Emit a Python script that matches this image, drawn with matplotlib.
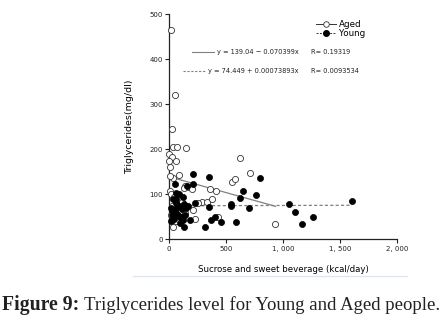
import matplotlib
matplotlib.use("Agg")
import matplotlib.pyplot as plt
from matplotlib.lines import Line2D
import numpy as np

# ---- data ----
aged_x = [18, 53, 24, 33, 73, 150, 3, 30, 62, 2, 10, 626, 714, 557, 580, 88, 37, 140, 170,
          360, 410, 290, 330, 375, 214, 430, 229, 934, 37,
          5, 15, 45, 80, 110, 120, 20, 50, 100, 140, 60, 30, 200, 130, 250, 10]
aged_y = [466, 320, 245, 206, 206, 204, 190, 182, 175, 173, 160, 181, 147, 127, 133, 144, 136, 119, 116,
          111, 107, 84, 83, 90, 66, 50, 45, 33, 28,
          108, 100, 95, 90, 82, 70, 55, 50, 60, 58, 40, 75, 112, 115, 80, 140]

young_x = [214, 350, 802, 214, 52, 161, 645, 767, 625, 60, 37, 60, 548, 540, 700, 355, 1051, 1101,
           1163, 1263, 1604, 458, 590, 405, 366, 318, 132, 185, 123, 100, 229,
           20, 40, 55, 70, 90, 110, 130, 30, 45, 80, 100, 150, 15, 60, 120, 85, 25, 65, 140, 170]
young_y = [146, 138, 137, 123, 124, 118, 107, 99, 92, 103, 89, 89, 78, 73, 69, 72, 78, 60,
           34, 50, 85, 38, 38, 49, 42, 28, 27, 42, 42, 37, 80,
           70, 65, 60, 72, 75, 68, 78, 55, 45, 55, 50, 70, 40, 80, 95, 100, 65, 58, 55, 75]

aged_fit = (139.04, -0.070399)
young_fit = (74.449, 0.00073893)
aged_R = "0.19319"
young_R = "0.0093534"

x_ticks = [0, 500, 1000, 1500, 2000]
x_ticklabels = ["0", "500", "1, 000", "1, 500", "2, 000"]
y_ticks = [0, 100, 200, 300, 400, 500]

W, H = 446, 323
fig = plt.figure(figsize=(W / 100, H / 100), dpi=100)
ax = fig.add_axes([169 / W, 1 - 239.3 / H, (397 - 169) / W, (239.3 - 14.3) / H])
ax.set_xlim(0, 2000)
ax.set_ylim(0, 500)

grey = "#808080"
# regression lines
xa = np.array([0, max(aged_x)])
ax.plot(xa, aged_fit[0] + aged_fit[1] * xa, color=grey, lw=0.9, zorder=2)
xy = np.array([0, max(young_x)])
ax.plot(xy, young_fit[0] + young_fit[1] * xy, color=grey, lw=0.9, ls=(0, (2.5, 1.8)), zorder=2)

ax.plot(aged_x, aged_y, ls="none", marker="o", ms=4.4, mfc="white", mec="#333333", mew=0.6,
        clip_on=False, zorder=3)
ax.plot(young_x, young_y, ls="none", marker="o", ms=4.4, mfc="black", mec="black", mew=0.5,
        clip_on=False, zorder=4)

for s in ["top", "right"]:
    ax.spines[s].set_visible(False)
for s in ["left", "bottom"]:
    ax.spines[s].set_linewidth(0.9)
    ax.spines[s].set_color("#222222")
ax.set_xticks(x_ticks)
ax.set_xticklabels(x_ticklabels)
ax.set_yticks(y_ticks)
ax.tick_params(direction="out", length=3, width=0.8, labelsize=5, pad=1.5, colors="#222222")
ax.set_xlabel("Sucrose and sweet beverage (kcal/day)", fontsize=6.2, labelpad=10)
ax.set_ylabel("Triglycerides(mg/dl)", fontsize=6.8, labelpad=11)

# legend
handles = [Line2D([], [], color="#333333", lw=0.7, marker="o", ms=4, mfc="white", mec="#333333", mew=0.6),
           Line2D([], [], color="#333333", lw=0.7, ls=(0, (2, 1.5)), marker="o", ms=4, mfc="black", mec="black")]
leg = fig.legend(handles, ["Aged", "Young"], loc="upper left", bbox_to_anchor=(316 / W, 1 - 20 / H),
                 frameon=False, fontsize=6.3, handlelength=2.3, handletextpad=0.3,
                 labelspacing=0.0, borderpad=0, borderaxespad=0)

# equation annotations
def fx(px):
    return px / W
def fy(py):
    return 1 - py / H

eq_fs = 4.8
fig.add_artist(Line2D([fx(192), fx(214)], [fy(52), fy(52)], color=grey, lw=0.8))
fig.text(fx(217), fy(52), "y = 139.04 \u2212 0.070399x", fontsize=eq_fs, va="center", color="#222222")
fig.text(fx(311), fy(52), "R= " + aged_R, fontsize=eq_fs, va="center", color="#222222")
fig.add_artist(Line2D([fx(183), fx(206)], [fy(71), fy(71)], color=grey, lw=0.8, ls=(0, (2, 1.5))))
fig.text(fx(208), fy(71), "y = 74.449 + 0.00073893x", fontsize=eq_fs, va="center", color="#222222")
fig.text(fx(311), fy(71), "R= " + young_R, fontsize=eq_fs, va="center", color="#222222")

# separator line and caption
fig.add_artist(Line2D([fx(133), fx(407)], [fy(276), fy(276)], color="#dde6f0", lw=1.0))
fig.text(fx(2), fy(305), "Figure 9:", fontsize=14.2, fontweight="bold", family="Liberation Serif",
         va="center", ha="left", color="#222222")
fig.text(fx(84), fy(305), "Triglycerides level for Young and Aged people.", fontsize=13.5,
         family="Liberation Serif", va="center", ha="left", color="#222222")

fig.savefig("out.png", dpi=100)
